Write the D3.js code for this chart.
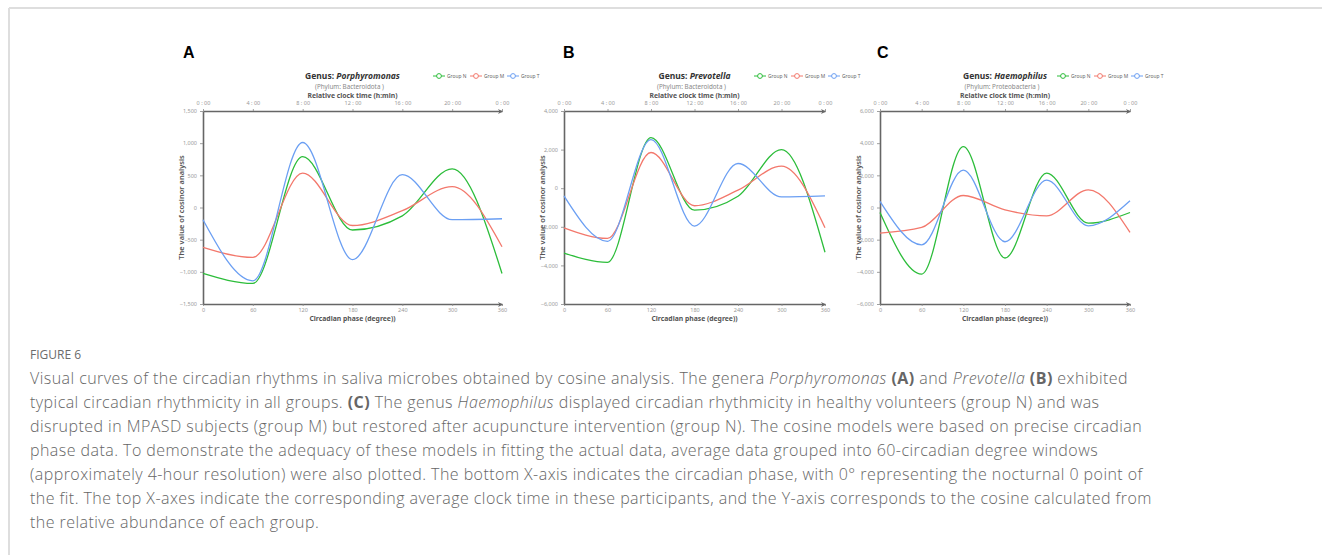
<!DOCTYPE html>
<html>
<head>
<meta charset="utf-8">
<script src="https://cdn.jsdelivr.net/npm/d3@7"></script>
<style>
  body { margin: 0; background: #fff; }
  svg { display: block; }
</style>
</head>
<body>
<div class="chart"></div>
<script>
// Cosinor curves for three genera, three groups each

var svgWidth = 1322;
var svgHeight = 555;

var phases = [0, 60, 120, 180, 240, 300, 360];
var clockLabels = ["0 : 00", "4 : 00", "8 : 00", "12 : 00", "16 : 00", "20 : 00", "0 : 00"];
var groupNames = ["Group N", "Group M", "Group T"];
var groupColors = ["#2cbd3a", "#f3786c", "#6b9ff3"];

// values at each 60 degree point
var porphyromonasN = [-1025, -1180, 790, -350, -130, 600, -1025];
var porphyromonasM = [-620, -775, 535, -280, -50, 325, -610];
var porphyromonasT = [-190, -1140, 1010, -810, 510, -190, -175];

var prevotellaN = [-3360, -3840, 2620, -1140, -420, 2000, -3320];
var prevotellaM = [-2050, -2600, 1850, -910, -100, 1140, -2050];
var prevotellaT = [-400, -2750, 2520, -1960, 1280, -450, -400];

var haemophilusN = [-310, -4140, 3790, -3140, 2140, -970, -310];
var haemophilusM = [-1590, -1240, 745, -150, -520, 1100, -1550];
var haemophilusT = [375, -2320, 2320, -2130, 1700, -1140, 415];

var yTicksA = [-1500, -1000, -500, 0, 500, 1000, 1500];
var yTicksB = [-6000, -4000, -2000, 0, 2000, 4000];
var yTicksC = [-6000, -4000, -2000, 0, 2000, 4000, 6000];

var captionLines = [
    [["Visual curves of the circadian rhythms in saliva microbes obtained by cosine analysis. The genera ", ""], ["Porphyromonas", "i"], [" ", ""], ["(A)", "b"], [" and ", ""], ["Prevotella", "i"], [" ", ""], ["(B)", "b"], [" exhibited", ""]],
    [["typical circadian rhythmicity in all groups. ", ""], ["(C)", "b"], [" The genus ", ""], ["Haemophilus", "i"], [" displayed circadian rhythmicity in healthy volunteers (group N) and was", ""]],
    [["disrupted in MPASD subjects (group M) but restored after acupuncture intervention (group N). The cosine models were based on precise circadian", ""]],
    [["phase data. To demonstrate the adequacy of these models in fitting the actual data, average data grouped into 60-circadian degree windows", ""]],
    [["(approximately 4-hour resolution) were also plotted. The bottom X-axis indicates the circadian phase, with 0\u00b0 representing the nocturnal 0 point of", ""]],
    [["the fit. The top X-axes indicate the corresponding average clock time in these participants, and the Y-axis corresponds to the cosine calculated from", ""]],
    [["the relative abundance of each group.", ""]]
];

var panels = [
    { letter: "A", genus: "Porphyromonas", phylum: "(Phylum: Bacteroidota )", series: [porphyromonasN, porphyromonasM, porphyromonasT], yTicks: yTicksA, left: 203, right: 502, letterX: 183, legendX: 433 },
    { letter: "B", genus: "Prevotella", phylum: "(Phylum: Bacteroidota )", series: [prevotellaN, prevotellaM, prevotellaT], yTicks: yTicksB, left: 564, right: 825, letterX: 563, legendX: 754 },
    { letter: "C", genus: "Haemophilus", phylum: "(Phylum: Proteobacteria )", series: [haemophilusN, haemophilusM, haemophilusT], yTicks: yTicksC, left: 880, right: 1130, letterX: 877, legendX: 1057 }
];

var plotTop = 111;
var plotBottom = 304;
var chartFont = "'Noto Sans', 'DejaVu Sans', sans-serif";
var captionFont = "'Open Sans', Lato, sans-serif";

var svg = d3.select(".chart")
    .append("svg")
    .attr("width", svgWidth)
    .attr("height", svgHeight);

// page frame
svg.append("line")
    .attr("x1", 9).attr("x2", svgWidth)
    .attr("y1", 8).attr("y2", 8)
    .attr("stroke", "#dedede")
    .attr("stroke-width", 2);
svg.append("line")
    .attr("x1", 9).attr("x2", 9)
    .attr("y1", 8).attr("y2", svgHeight)
    .attr("stroke", "#dedede")
    .attr("stroke-width", 2);

svg.append("defs").append("marker")
    .attr("id", "arrow")
    .attr("viewBox", "0 0 10 10")
    .attr("refX", 9)
    .attr("refY", 5)
    .attr("markerWidth", 6)
    .attr("markerHeight", 5)
    .attr("markerUnits", "userSpaceOnUse")
    .attr("orient", "auto")
    .append("path")
    .attr("d", "M0,0L10,5L0,10L3,5Z")
    .attr("fill", "#666");

panels.forEach(function(p) {
    var g = svg.append("g");
    var cx = (p.left + p.right) / 2;

    var xScale = d3.scaleLinear()
        .domain([0, 360])
        .range([p.left, p.right]);

    var yScale = d3.scaleLinear()
        .domain(d3.extent(p.yTicks))
        .range([plotBottom, plotTop]);

    // panel letter
    g.append("text")
        .attr("x", p.letterX)
        .attr("y", 58)
        .attr("font-family", "'Liberation Sans', Arial, sans-serif")
        .attr("font-weight", "bold")
        .attr("font-size", 16)
        .attr("fill", "#000")
        .text(p.letter);

    // title
    var title = g.append("text")
        .attr("x", cx)
        .attr("y", 79)
        .attr("text-anchor", "middle")
        .attr("font-family", chartFont)
        .attr("font-size", 8.5)
        .attr("font-weight", "bold")
        .attr("fill", "#333");
    title.append("tspan").text("Genus:  ");
    title.append("tspan").attr("font-style", "italic").text(p.genus);

    g.append("text")
        .attr("x", cx - 3)
        .attr("y", 89)
        .attr("text-anchor", "middle")
        .attr("font-family", chartFont)
        .attr("font-size", 6.3)
        .attr("fill", "#888")
        .text(p.phylum);

    g.append("text")
        .attr("x", cx)
        .attr("y", 97.5)
        .attr("text-anchor", "middle")
        .attr("font-family", chartFont)
        .attr("font-size", 6.8)
        .attr("font-weight", "bold")
        .attr("fill", "#555")
        .text("Relative clock time (h:min)");

    // legend
    groupNames.forEach(function(name, i) {
        var lx = p.legendX + i * 37;
        g.append("line")
            .attr("x1", lx).attr("x2", lx + 12)
            .attr("y1", 76).attr("y2", 76)
            .attr("stroke", groupColors[i])
            .attr("stroke-width", 1);
        g.append("circle")
            .attr("cx", lx + 6)
            .attr("cy", 76)
            .attr("r", 2.4)
            .attr("fill", "#fff")
            .attr("stroke", groupColors[i])
            .attr("stroke-width", 1);
        g.append("text")
            .attr("x", lx + 14)
            .attr("y", 78)
            .attr("font-family", chartFont)
            .attr("font-size", 4.9)
            .attr("fill", "#666")
            .text(name);
    });

    // axes
    var topAxis = d3.axisTop(xScale)
        .tickValues(phases)
        .tickSize(2)
        .tickSizeOuter(0)
        .tickFormat(function(d, i) { return clockLabels[i]; });

    var bottomAxis = d3.axisBottom(xScale)
        .tickValues(phases)
        .tickSize(2)
        .tickSizeOuter(0)
        .tickFormat(d3.format("d"));

    var leftAxis = d3.axisLeft(yScale)
        .tickValues(p.yTicks)
        .tickSize(3)
        .tickSizeOuter(0)
        .tickFormat(d3.format(","));

    var axes = [
        g.append("g").attr("transform", "translate(0," + plotTop + ")").call(topAxis),
        g.append("g").attr("transform", "translate(0," + plotBottom + ")").call(bottomAxis),
        g.append("g").attr("transform", "translate(" + p.left + ",0)").call(leftAxis)
    ];

    axes.forEach(function(a) {
        a.select(".domain").attr("stroke", "#666").attr("stroke-width", 1.6);
        a.selectAll(".tick line").attr("stroke", "#888").attr("stroke-width", 0.8);
        a.selectAll(".tick text")
            .attr("font-family", chartFont)
            .attr("font-size", 5.5)
            .attr("fill", "#999");
    });
    axes[0].select(".domain").attr("marker-end", "url(#arrow)");
    axes[1].select(".domain").attr("marker-end", "url(#arrow)");
    axes[0].selectAll(".tick text").attr("dy", "-0.1em");
    axes[1].selectAll(".tick text").attr("dy", "0.6em");

    g.append("text")
        .attr("transform", "translate(" + (p.left - 19) + "," + ((plotTop + plotBottom) / 2) + ") rotate(-90)")
        .attr("text-anchor", "middle")
        .attr("font-family", chartFont)
        .attr("font-size", 7.5)
        .attr("font-weight", 600)
        .attr("fill", "#555")
        .text("The value of cosinor analysis");

    g.append("text")
        .attr("x", cx)
        .attr("y", plotBottom + 17)
        .attr("text-anchor", "middle")
        .attr("font-family", chartFont)
        .attr("font-size", 6.8)
        .attr("font-weight", "bold")
        .attr("fill", "#555")
        .text("Circadian phase (degree))");

    // curves
    var line = d3.line()
        .x(function(d, i) { return xScale(phases[i]); })
        .y(function(d) { return yScale(d); })
        .curve(d3.curveMonotoneX);

    p.series.forEach(function(values, i) {
        g.append("path")
            .datum(values)
            .attr("d", line)
            .attr("fill", "none")
            .attr("stroke", groupColors[i])
            .attr("stroke-width", 1.3);
    });
});

// caption
svg.append("text")
    .attr("x", 30)
    .attr("y", 359)
    .attr("font-family", captionFont)
    .attr("font-size", 12)
    .attr("fill", "#6b6b6b")
    .text("FIGURE 6");

captionLines.forEach(function(parts, i) {
    var t = svg.append("text")
        .attr("x", 30)
        .attr("y", 384 + i * 24)
        .attr("font-family", captionFont)
        .attr("font-weight", 300)
        .attr("font-size", 16)
        .attr("letter-spacing", 0.45)
        .attr("fill", "#666");
    parts.forEach(function(part) {
        var s = t.append("tspan").text(part[0]);
        if (part[1] === "i") s.attr("font-style", "italic");
        if (part[1] === "b") s.attr("font-weight", "bold");
    });
});
</script>
</body>
</html>
